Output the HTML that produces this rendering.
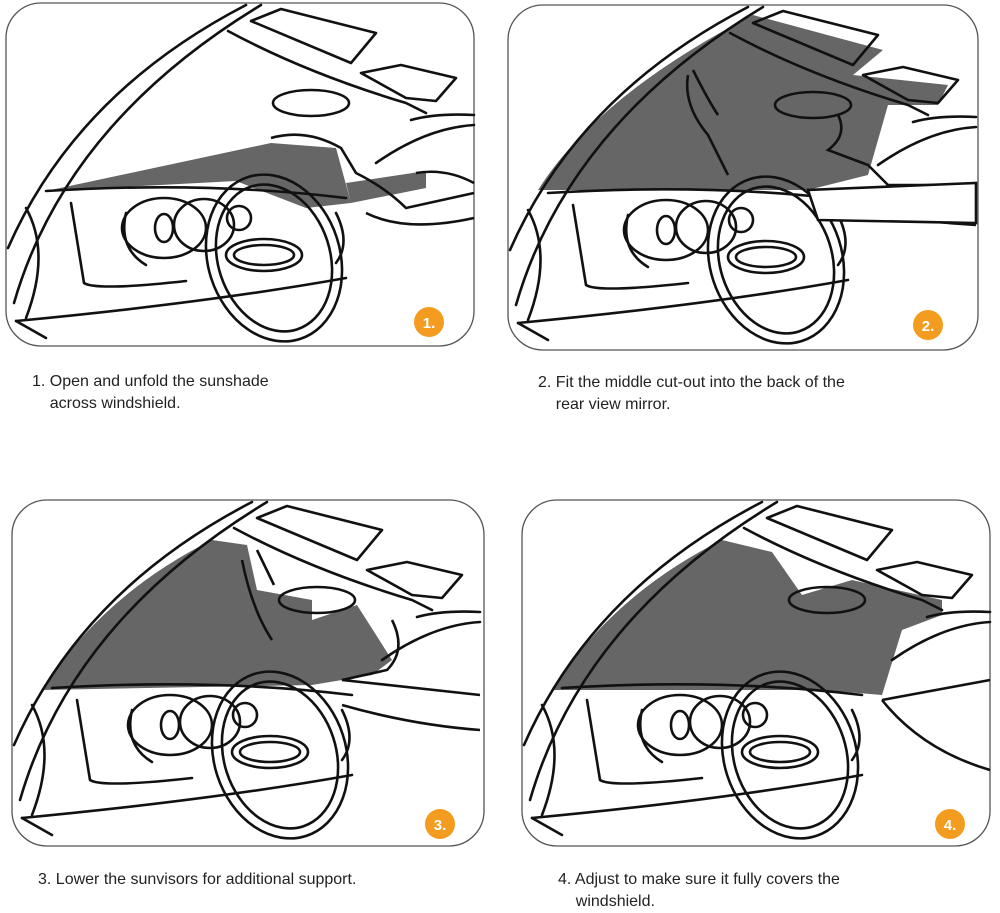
<!DOCTYPE html>
<html><head><meta charset="utf-8"><style>
html,body{margin:0;padding:0;background:#fff;}
body{width:1000px;height:911px;position:relative;overflow:hidden;font-family:"Liberation Sans",sans-serif;}
.cap{position:absolute;font-size:16px;color:#222;line-height:22px;}
</style></head><body>
<svg width="1000" height="911" style="position:absolute;left:0;top:0" xmlns="http://www.w3.org/2000/svg">
<defs>
<g id="base" fill="none" stroke="#111" stroke-width="2.6" stroke-linejoin="round" stroke-linecap="round">
  <path d="M2 245 Q70 90 240 2"/>
  <path d="M8 300 Q60 120 255 2"/>
  <path d="M222 28 Q300 70 400 100 L420 110"/>
  <path d="M245 18 L275 6 L370 30 L345 60 Z"/>
  <path d="M355 70 L395 62 L450 75 L430 98 L400 95 Z"/>
  <ellipse cx="305" cy="100" rx="38" ry="13"/>
  <path d="M405 117 Q430 110 468 112"/>
  <path d="M370 160 Q420 125 468 122"/>
  <path d="M40 188 Q200 178 340 195"/>
  <path d="M65 200 L78 280 Q90 288 180 278"/>
  <path d="M20 205 Q45 250 20 315"/>
  <path d="M10 318 Q200 300 340 275"/>
  <path d="M10 318 L40 335"/>
  <ellipse cx="158" cy="225" rx="42" ry="30"/>
  <ellipse cx="158" cy="225" rx="9" ry="14"/>
  <ellipse cx="198" cy="222" rx="30" ry="26"/>
  <ellipse cx="233" cy="215" rx="12" ry="12"/>
  <path d="M120 210 Q112 245 140 262"/>
  <ellipse cx="268" cy="255" rx="66" ry="85" transform="rotate(-18 268 255)"/>
  <ellipse cx="268" cy="255" rx="56" ry="75" transform="rotate(-18 268 255)"/>
  <ellipse cx="258" cy="252" rx="38" ry="16"/>
  <ellipse cx="258" cy="252" rx="30" ry="10"/>
  <path d="M330 210 Q345 240 330 260"/>
</g>
</defs>
<g fill="none" stroke="#555" stroke-width="1.3">
  <rect x="6" y="3" width="468" height="343" rx="35"/>
  <rect x="508" y="5" width="470" height="345" rx="35"/>
  <rect x="12" y="500" width="472" height="346" rx="35"/>
  <rect x="522" y="500" width="468" height="346" rx="35"/>
</g>
<!-- panel 1 -->
<g transform="translate(6,3)">
  <path d="M40 188 L265 140 L330 145 L345 200 L300 205 L230 178 Z M340 180 L420 168 L420 185 L345 200 Z" fill="#666"/>
  <use href="#base"/>
  <path d="M265 135 Q300 125 335 145 L350 170 Q380 185 400 205 L468 190 M410 170 Q440 165 468 180 M360 210 Q400 230 468 215" fill="none" stroke="#111" stroke-width="2.6"/>
  <circle cx="423" cy="319" r="15" fill="#f39c1f"/>
  <text x="423" y="325" font-size="15" font-weight="bold" fill="#fff" text-anchor="middle" font-family="Liberation Sans">1.</text>
</g>
<!-- panel 2 -->
<g transform="translate(508,5)">
  <path d="M30 185 Q90 90 245 10 L375 45 L345 70 L440 80 L430 100 L380 100 L360 170 L300 185 Z" fill="#666"/>
  <use href="#base"/>
  <path d="M180 70 Q175 100 200 130 L220 170 M185 65 Q200 95 210 110 M330 110 Q340 130 320 145 L360 160 L380 180 L468 180 M310 195 Q380 215 468 220" fill="none" stroke="#111" stroke-width="2.6"/>
  <path d="M300 185 L310 215 L468 218 L468 178 Z" fill="#fff" stroke="#111" stroke-width="2.6"/>
  <circle cx="420" cy="320" r="15" fill="#f39c1f"/>
  <text x="420" y="326" font-size="15" font-weight="bold" fill="#fff" text-anchor="middle" font-family="Liberation Sans">2.</text>
</g>
<!-- panel 3 -->
<g transform="translate(12,500)">
  <path d="M30 190 Q90 95 200 40 L235 45 L245 90 L300 100 L300 120 L345 105 L380 160 L360 175 L300 185 Z" fill="#666"/>
  <use href="#base"/>
  <path d="M230 60 Q240 110 260 140 M245 50 L262 85 M380 120 Q395 150 375 170 L330 180 L468 195 M330 205 Q400 225 468 230" fill="none" stroke="#111" stroke-width="2.6"/>
  <circle cx="428" cy="324" r="15" fill="#f39c1f"/>
  <text x="428" y="330" font-size="15" font-weight="bold" fill="#fff" text-anchor="middle" font-family="Liberation Sans">3.</text>
</g>
<!-- panel 4 -->
<g transform="translate(522,500)">
  <path d="M30 190 Q90 95 200 40 L250 52 L280 95 L330 80 L420 100 L420 115 L380 130 L360 195 L300 190 Z" fill="#666"/>
  <use href="#base"/>
  <path d="M360 200 L468 180 M360 200 Q400 250 468 270" fill="none" stroke="#111" stroke-width="2.6"/>
  <circle cx="428" cy="324" r="15" fill="#f39c1f"/>
  <text x="428" y="330" font-size="15" font-weight="bold" fill="#fff" text-anchor="middle" font-family="Liberation Sans">4.</text>
</g>
</svg>
<div class="cap" style="left:32px;top:371px">1. Open and unfold the sunshade<br>&nbsp;&nbsp;&nbsp;&nbsp;across windshield.</div>
<div class="cap" style="left:538px;top:372px">2. Fit the middle cut-out into the back of the<br>&nbsp;&nbsp;&nbsp;&nbsp;rear view mirror.</div>
<div class="cap" style="left:38px;top:869px">3. Lower the sunvisors for additional support.</div>
<div class="cap" style="left:558px;top:869px">4. Adjust to make sure it fully covers the<br>&nbsp;&nbsp;&nbsp;&nbsp;windshield.</div>
</body></html>
